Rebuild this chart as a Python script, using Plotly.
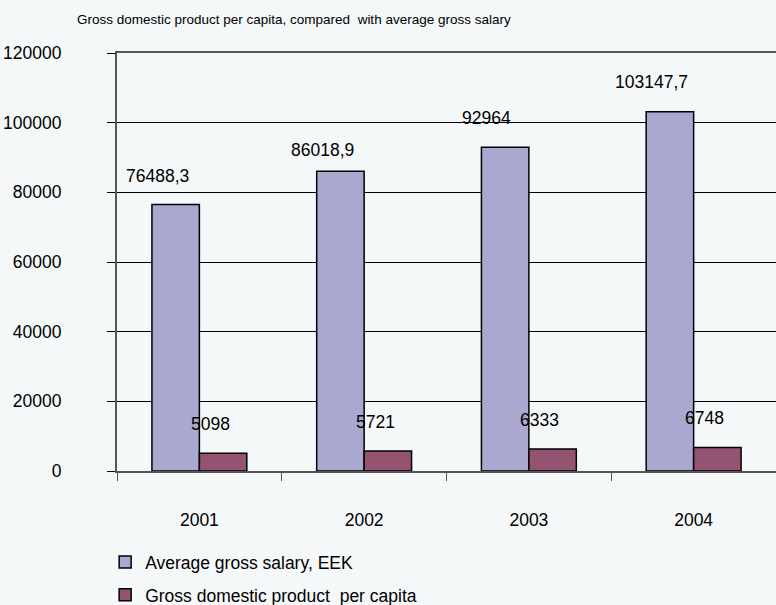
import plotly.graph_objects as go

# Data
years = ["2001", "2002", "2003", "2004"]
salary = [76488.3, 86018.9, 92964, 103147.7]
gdp_per_capita = [5098, 5721, 6333, 6748]
salary_labels = ["76488,3", "86018,9", "92964", "103147,7"]
gdp_labels = ["5098", "5721", "6333", "6748"]
y_ticks = [0, 20000, 40000, 60000, 80000, 100000, 120000]

BG = "#f5f8f9"
FONT = "Liberation Sans, Arial, sans-serif"
PURPLE = "#aaa8d0"
MAROON = "#955372"

fig = go.Figure()
fig.add_trace(go.Bar(
    x=years, y=salary, name="Average gross salary, EEK",
    marker=dict(color=PURPLE, line=dict(color="black", width=1.5)),
    legendgroup="a",
))
fig.add_trace(go.Bar(
    x=years, y=gdp_per_capita, name="Gross domestic product  per capita",
    marker=dict(color=MAROON, line=dict(color="black", width=1.5)),
    legendgroup="b",
))

# value labels above each bar group (x given as category index)
salary_dy = [29, 21, 29, 30]
for i, (v, t, dy) in enumerate(zip(salary, salary_labels, salary_dy)):
    fig.add_annotation(x=i, y=v, text=t, showarrow=False, xshift=-42, yshift=dy,
                       font=dict(family=FONT, size=17.5, color="black"))
for i, (v, t) in enumerate(zip(gdp_per_capita, gdp_labels)):
    fig.add_annotation(x=i, y=v, text=t, showarrow=False, xshift=11, yshift=29,
                       font=dict(family=FONT, size=17.5, color="black"))

fig.update_layout(
    width=776, height=605,
    paper_bgcolor=BG, plot_bgcolor=BG,
    margin=dict(l=117, r=0, t=53, b=134, autoexpand=False),
    barmode="group", bargap=0.424, bargroupgap=0,
    font=dict(family=FONT, size=17.5, color="black"),
    title=dict(
        text="Gross domestic product per capita, compared  with average gross salary",
        x=77 / 776, xanchor="left", xref="container",
        y=1 - 19 / 605, yanchor="middle", yref="container",
        font=dict(family=FONT, size=13.5, color="black"),
    ),
    showlegend=True,
    legend=dict(
        x=-0.018, xanchor="left", y=-0.175, yanchor="top",
        orientation="v", traceorder="grouped", tracegroupgap=7,
        bgcolor="rgba(0,0,0,0)", font=dict(family=FONT, size=17.5),
    ),
    xaxis=dict(
        type="category", range=[-0.5, 3.5], tickangle=0, automargin=False,
        showgrid=False, showline=True, linecolor="#555555", linewidth=2, mirror=True,
        ticks="outside", tickson="boundaries", ticklen=8, tickcolor="#555555",
        ticklabelstandoff=32,
    ),
    yaxis=dict(
        range=[0, 120000], tickvals=y_ticks, ticktext=[str(v) for v in y_ticks],
        automargin=False,
        showgrid=True, gridcolor="black", gridwidth=1,
        showline=True, linecolor="#555555", linewidth=2,
        ticks="outside", ticklen=8, tickcolor="black",
        ticklabelstandoff=42, zeroline=False,
    ),
)

fig.write_html("out.html")
